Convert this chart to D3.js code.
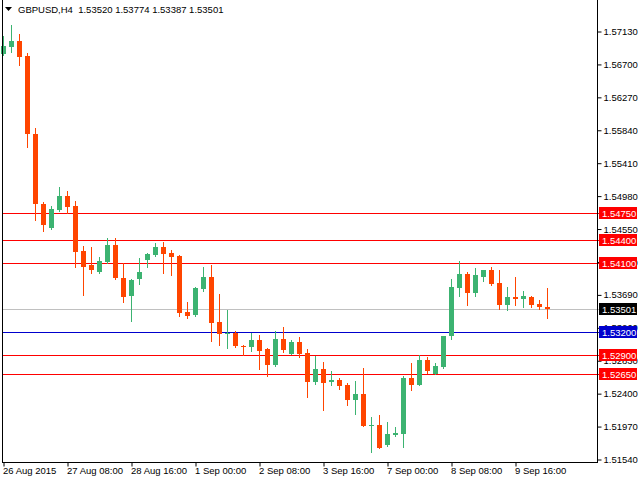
<!DOCTYPE html>
<html>
    <head>
        <title>GBPUSD,H4</title>
        <meta charset="utf-8">
        <script src="https://d3js.org/d3.v7.min.js"></script>
        <style>
            body { margin: 0; background: #fff; }
            text { font-family: "Liberation Sans", Arial, sans-serif; }
        </style>
    </head>
    <body>
        <div id="container"></div>
        <script>
        // Candles (H4), index 0 = 26 Aug 2015 00:00
        const open = [1.56830,1.56921,1.56999,1.56803,1.55785,1.54870,1.54557,1.54792,1.54975,1.54844,
            1.54256,1.54074,1.53982,1.54113,1.54335,1.53904,1.53669,1.53891,1.54139,1.54204,
            1.54309,1.54230,1.54191,1.53460,1.53420,1.53760,1.53917,1.53329,1.53172,1.53185,
            1.53015,1.53002,1.53094,1.52976,1.52767,1.53107,1.52911,1.53068,1.52924,1.52545,
            1.52715,1.52545,1.52571,1.52506,1.52310,1.52389,1.51971,1.51984,1.51722,1.51853,
            1.51866,1.52598,1.52506,1.52833,1.52650,1.52741,1.53146,1.53773,1.53956,1.53708,
            1.53917,1.54008,1.53838,1.53551,1.53656,1.53629,1.53660,1.53564,1.53520]
        const high = [1.57065,1.57208,1.57091,1.56843,1.55863,1.54896,1.54844,1.55092,1.55040,1.54909,
            1.54322,1.54309,1.54178,1.54426,1.54426,1.54100,1.53891,1.54165,1.54230,1.54361,
            1.54374,1.54269,1.54204,1.53590,1.53786,1.54047,1.54074,1.53695,1.53486,1.53211,
            1.53035,1.53185,1.53159,1.52989,1.53211,1.53264,1.53094,1.53133,1.52976,1.52885,
            1.52806,1.52689,1.52598,1.52532,1.52558,1.52728,1.52088,1.52114,1.52023,1.51957,
            1.52624,1.52793,1.52898,1.52872,1.52793,1.53150,1.53891,1.54126,1.53982,1.54034,
            1.54008,1.54047,1.54008,1.53786,1.53917,1.53734,1.53669,1.53616,1.53774]
        const low = [1.56817,1.56856,1.56686,1.55615,1.54661,1.54518,1.54550,1.54780,1.54753,1.54045,
            1.53682,1.53969,1.53975,1.54105,1.53895,1.53590,1.53342,1.53825,1.54045,1.54191,
            1.53969,1.53943,1.53407,1.53381,1.53407,1.53734,1.53081,1.53029,1.52989,1.53002,
            1.52898,1.52950,1.52715,1.52624,1.52754,1.52937,1.52911,1.52872,1.52349,1.52519,
            1.52180,1.52506,1.52454,1.52245,1.52127,1.51965,1.51631,1.51680,1.51715,1.51840,
            1.51696,1.52441,1.52500,1.52663,1.52645,1.52735,1.53107,1.53669,1.53551,1.53669,
            1.53865,1.53812,1.53499,1.53486,1.53551,1.53525,1.53525,1.53499,1.53387]
        const close = [1.56934,1.56999,1.56790,1.55785,1.54870,1.54596,1.54805,1.54975,1.54831,1.54243,
            1.54047,1.54008,1.54126,1.54335,1.53904,1.53656,1.53878,1.53982,1.54217,1.54309,
            1.54217,1.54178,1.53446,1.53407,1.53773,1.53917,1.53316,1.53172,1.53185,1.53015,
            1.53002,1.53094,1.52950,1.52767,1.53107,1.52963,1.53068,1.52911,1.52545,1.52715,
            1.52532,1.52571,1.52493,1.52310,1.52389,1.51971,1.51984,1.51683,1.51866,1.51879,
            1.52598,1.52506,1.52833,1.52689,1.52754,1.53146,1.53786,1.53956,1.53708,1.53943,
            1.54008,1.53825,1.53551,1.53656,1.53629,1.53669,1.53551,1.53520,1.53501]

        // Axis ticks
        const xTickIndex = [0, 8, 16, 24, 32, 40, 48, 56, 64]
        const xTickLabels = ["26 Aug 2015", "27 Aug 08:00", "28 Aug 16:00", "1 Sep 00:00", "2 Sep 08:00",
            "3 Sep 16:00", "7 Sep 00:00", "8 Sep 08:00", "9 Sep 16:00"]
        const yTicks = [1.51540, 1.51970, 1.52400, 1.52830, 1.53260, 1.53690, 1.54120,
            1.54550, 1.54980, 1.55410, 1.55840, 1.56270, 1.56700, 1.57130]

        // Horizontal levels
        const redLevels = [1.54750, 1.54400, 1.54100, 1.52900, 1.52650]
        const blueLevels = [1.53200]

        const symbol = "GBPUSD,H4"

        const w = 640
        const h = 480
        const plotLeft = 2
        const plotRight = 597
        const plotBottom = 462
        const up = "#3cb371"
        const down = "#ff4500"

        const data = open.map((o, i) => ({ i: i, o: o, h: high[i], l: low[i], c: close[i] }))
        const last = data[data.length - 1]

        const x = d3.scaleLinear().domain([0, 68]).range([3, 547])
        const y = d3.scaleLinear().domain([1.5154, 1.5713]).range([459, 31])
        const py = v => Math.round(y(v)) + 0.5

        const svg = d3.select("#container")
            .append("svg")
            .attr("width", w)
            .attr("height", h)
            .style("display", "block")

        // Level lines
        const levels = svg.append("g")
        levels.append("line")
            .attr("x1", plotLeft).attr("x2", 599)
            .attr("y1", py(last.c)).attr("y2", py(last.c))
            .attr("stroke", "#c0c0c0")
        levels.selectAll(".red").data(redLevels).enter().append("line")
            .attr("x1", plotLeft).attr("x2", 599)
            .attr("y1", d => py(d)).attr("y2", d => py(d))
            .attr("stroke", "#ff0000")
        levels.selectAll(".blue").data(blueLevels).enter().append("line")
            .attr("x1", plotLeft).attr("x2", 599)
            .attr("y1", d => py(d)).attr("y2", d => py(d))
            .attr("stroke", "#0000cd")

        // Candles
        const candles = svg.append("g").selectAll("g")
            .data(data)
            .enter()
            .append("g")
        candles.append("line")
            .attr("x1", d => Math.round(x(d.i)) + 0.5)
            .attr("x2", d => Math.round(x(d.i)) + 0.5)
            .attr("y1", d => Math.round(y(d.h)))
            .attr("y2", d => Math.round(y(d.l)) + 1)
            .attr("stroke", d => d.c >= d.o ? up : down)
        candles.append("rect")
            .attr("x", d => Math.round(x(d.i)) - 2)
            .attr("width", 5)
            .attr("y", d => Math.round(y(Math.max(d.o, d.c))))
            .attr("height", d => Math.max(1, Math.round(y(Math.min(d.o, d.c))) - Math.round(y(Math.max(d.o, d.c)))))
            .attr("fill", d => d.c >= d.o ? up : down)

        // Frame
        svg.append("line").attr("x1", plotLeft + 0.5).attr("x2", plotLeft + 0.5)
            .attr("y1", 0).attr("y2", plotBottom + 1).attr("stroke", "#000")
        svg.append("line").attr("x1", plotRight + 0.5).attr("x2", plotRight + 0.5)
            .attr("y1", 0).attr("y2", plotBottom + 1).attr("stroke", "#000")
        svg.append("line").attr("x1", plotLeft).attr("x2", plotRight + 1)
            .attr("y1", plotBottom + 0.5).attr("y2", plotBottom + 0.5).attr("stroke", "#000")

        // Y axis (right)
        const yAxis = d3.axisRight(y)
            .tickValues(yTicks)
            .tickFormat(d3.format(".5f"))
            .tickSize(4)
            .tickSizeOuter(0)
        const gy = svg.append("g")
            .attr("transform", "translate(" + (plotRight + 0.5) + ",0.5)")
            .call(yAxis)
        gy.select(".domain").remove()
        gy.selectAll("text")
            .attr("x", 6)
            .attr("font-size", "9.5px")
            .attr("font-family", "Liberation Sans, Arial, sans-serif")
            .attr("fill", "#000")

        // X axis (bottom)
        const xAxis = d3.axisBottom(x)
            .tickValues(xTickIndex)
            .tickFormat((d, i) => xTickLabels[i])
            .tickSize(4)
            .tickSizeOuter(0)
        const gx = svg.append("g")
            .attr("transform", "translate(0.5," + (plotBottom + 0.5) + ")")
            .call(xAxis)
        gx.select(".domain").remove()
        gx.selectAll("text")
            .attr("text-anchor", "start")
            .attr("x", -1)
            .attr("y", 5)
            .attr("font-size", "9.5px")
            .attr("font-family", "Liberation Sans, Arial, sans-serif")
            .attr("fill", "#000")

        // Level price tags
        const tag = (v, color) => {
            const ty = Math.round(y(v))
            svg.append("rect")
                .attr("x", 599).attr("y", ty - 6)
                .attr("width", 38).attr("height", 12)
                .attr("fill", color)
            svg.append("text")
                .attr("x", 602).attr("y", ty + 4)
                .attr("font-size", "9.5px")
                .attr("fill", "#fff")
                .text(d3.format(".5f")(v))
        }
        redLevels.forEach(v => tag(v, "#ff0000"))
        blueLevels.forEach(v => tag(v, "#0000cd"))
        tag(last.c, "#000")

        // Title
        svg.append("path")
            .attr("d", "M5,7 L12,7 L8.5,11 Z")
            .attr("fill", "#000")
        svg.append("text")
            .attr("x", 18).attr("y", 13)
            .attr("font-size", "9.5px")
            .attr("fill", "#000")
            .text(symbol + "  " + [last.o, last.h, last.l, last.c].map(d3.format(".5f")).join(" "))
            .attr("xml:space", "preserve")
            .style("white-space", "pre")
        </script>
    </body>
</html>
